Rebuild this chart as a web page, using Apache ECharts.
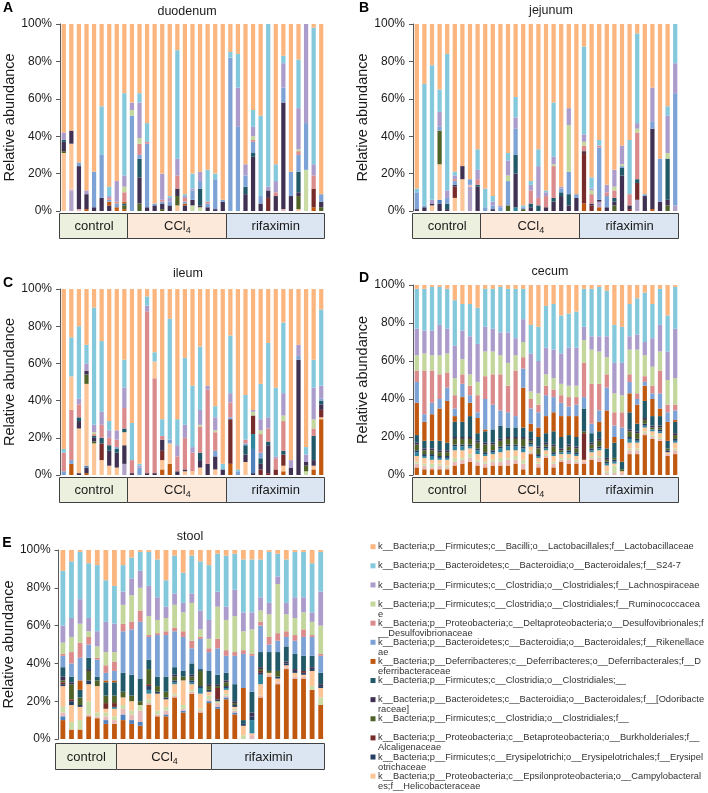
<!DOCTYPE html>
<html><head><meta charset="utf-8">
<script src="https://cdn.jsdelivr.net/npm/echarts@6/dist/echarts.min.js"></script>
<style>html,body{margin:0;padding:0;background:#fff}#c{width:708px;height:793px}</style>
</head><body><div id="c"></div>
<script>
// ---------------- DATA (relative abundance, %) ----------------
const groupNames = ['control', 'CCl4', 'rifaximin'];
const duoGroups = [9, 13, 13], jejGroups = [9, 13, 13], ileGroups = [9, 13, 13], cecGroups = [9, 13, 13], stoGroups = [7, 11, 13];

// duodenum (35 samples)
const duo_oBrown   = [0,0,0,1,0,0,0,1,1, 0,0,0,0,0,0,0,0,0,0,0,0,0, 0,0,0,0,0,0,0,0,0,0,0,2,0];
const duo_oLav     = [0,11,0,0,0,0,0,0,0, 0,0,0,0,0,0,0,0,0,0,0,0,0, 0,0,0,0,0,0,0,0,0,0,0,0,0];
const duo_oPink    = [0,1,1,0,0,0,0,0,0, 0,0,0,0,0,0,0,0,0,0,0,0,0, 0,0,0,0,0,0,0,1,0,0,0,0,0];
const duo_oGreen   = [0,0,0,0,0,0,0,0,0, 0,0,0,0,0,0,0,0,3,2,0,0,0, 0,0,0,0,0,0,0,0,0,0,22,0,0];
const duo_Helico   = [31,24,0,0,0,0,0,0,0, 0,0,0,0,0,0,3,0,0,0,0,0,0, 0,0,0,0,0,0,0,0,0,1,0,0,0];
const duo_Alcalig  = [0,0,0,0,0,0,0,0,0, 0,0,0,0,0,0,0,0,0,0,0,0,0, 0,0,0,0,0,7,0,0,0,0,0,10,0];
const duo_ClostrF  = [1,0,0,0,0,0,0,0,2, 0,4,0,0,1,0,5,0,0,0,0,0,0, 0,0,0,0,0,0,0,0,0,7,0,0,2];
const duo_Odor     = [5,7,23,8,2,7,3,0,0, 0,14,2,3,3,3,4,3,3,1,2,1,5, 0,0,9,29,4,4,8,57,8,2,0,0,3];
const duo_Clostr   = [1,0,0,0,0,0,0,0,1, 0,10,0,0,0,0,0,0,0,9,0,0,0, 0,0,4,2,0,0,0,0,0,11,0,0,0];
const duo_Deferri  = [0,0,0,0,0,0,2,1,1, 0,0,0,0,0,0,0,1,0,0,0,0,0, 0,0,0,0,0,0,0,0,0,0,0,0,0];
const duo_Rikenella= [0,0,2,0,19,23,1,2,0, 51,2,34,1,1,2,0,1,5,4,2,16,1, 82,45,6,6,4,0,0,8,13,9,25,0,4];
const duo_Desulfo  = [0,0,0,0,0,0,1,1,5, 0,6,1,0,1,0,7,2,0,0,1,0,0, 0,0,0,1,0,0,2,0,0,2,0,7,0];
const duo_Rumino   = [0,0,0,0,0,0,0,0,3, 3,3,0,0,0,0,0,0,0,0,0,0,0, 0,0,0,2,0,0,0,0,0,1,0,0,0];
const duo_Lachno   = [4,0,0,2,0,0,1,11,6, 4,19,0,0,14,2,9,1,1,5,0,0,0, 0,21,6,5,0,2,6,13,0,22,53,6,0];
const duo_S247     = [0,0,0,0,0,26,5,0,44, 0,5,10,0,0,1,58,1,8,0,17,3,0, 3,18,0,9,43,87,9,4,0,26,0,73,0];
const duo_Lacto    = [58,57,74,89,79,44,87,84,37, 42,37,53,96,80,92,14,91,80,79,78,80,94, 15,16,75,46,49,0,75,17,79,19,0,2,91];

// jejunum (35 samples)
const jej_oBrown   = [0,0,0,0,0,0,0,0,0, 0,0,0,0,0,0,0,0,0,0,0,0,0, 4,0,2,0,0,0,0,0,0,1,0,0,0];
const jej_oLav     = [0,0,0,0,0,0,0,13,0, 0,0,0,0,0,0,0,0,0,0,0,0,0, 0,0,3,0,0,0,0,6,0,0,0,0,3];
const jej_oPurple  = [0,0,0,4,0,0,0,0,0, 0,0,0,0,0,0,0,0,0,0,0,0,0, 0,0,0,0,0,0,0,0,0,0,0,0,0];
const jej_oBlue    = [0,0,0,2,0,0,0,0,0, 0,0,0,0,0,0,0,0,0,0,0,0,0, 0,0,0,0,0,0,0,0,0,0,0,0,0];
const jej_oPink    = [0,0,0,0,0,0,0,1,0, 0,0,0,0,0,0,0,0,0,0,0,0,0, 0,0,0,0,0,0,0,0,0,0,0,0,0];
const jej_oTeal    = [0,0,0,0,0,0,0,0,0, 0,0,0,0,2,0,0,0,0,0,0,0,0, 0,0,0,0,0,0,0,0,0,0,0,0,0];
const jej_Helico   = [0,0,3,19,0,7,17,0,0, 0,0,0,0,0,0,0,0,0,0,0,0,0, 0,0,0,0,0,0,0,0,0,0,0,0,0];
const jej_Alcalig  = [0,0,0,0,0,6,0,0,0, 0,0,0,0,0,0,0,0,0,0,0,0,0, 27,3,0,0,0,0,1,9,0,0,0,0,0];
const jej_ClostrF  = [0,0,0,18,0,0,0,0,0, 0,0,0,3,0,1,0,0,0,0,0,0,0, 0,0,0,0,3,0,0,0,0,0,0,3,0];
const jej_Odor     = [1,2,1,0,1,1,7,0,13, 0,1,0,0,18,0,2,0,2,5,8,3,7, 1,1,1,2,2,19,2,0,8,43,5,3,0];
const jej_Clostr   = [0,0,0,0,3,0,0,0,1, 0,0,0,0,10,0,2,3,0,2,2,6,0, 0,0,0,0,2,4,0,2,0,0,0,22,0];
const jej_Rikenella= [9,1,0,2,3,2,0,3,0, 2,2,2,13,14,1,0,0,0,0,2,12,2, 0,0,28,6,0,1,0,0,1,4,23,0,60];
const jej_Desulfo  = [0,0,0,0,0,1,0,0,3, 0,0,0,0,0,0,7,4,6,17,0,0,0, 3,5,1,2,4,0,6,25,0,0,0,0,0];
const jej_Rumino   = [0,0,0,0,0,0,0,0,0, 0,0,0,3,0,0,0,0,0,1,0,25,0, 2,2,0,0,2,1,0,2,0,0,0,3,0];
const jej_Lachno   = [0,0,2,8,4,2,0,0,5, 0,2,1,8,6,0,3,17,2,4,1,9,0, 4,1,0,4,9,10,0,3,0,18,0,20,16];
const jej_S247     = [2,65,72,12,73,2,0,0,11, 10,3,0,4,11,1,2,9,1,29,0,0,0, 47,6,3,0,0,0,29,48,0,0,0,5,21];
const jej_Lacto    = [88,32,22,35,16,79,76,83,67, 88,92,97,69,39,97,84,67,89,42,87,45,91, 12,82,62,86,78,65,62,5,91,34,72,44,0];

// ileum (35 samples)
const ile_oBrown   = [0,6,0,1,0,0,0,0,0, 0,0,0,0,3,6,0,0,0,0,0,0,0, 6,0,0,0,0,0,0,2,0,0,0,3,30];
const ile_oLav     = [0,0,0,0,0,0,0,0,6, 0,0,0,0,0,0,0,0,0,0,0,0,0, 0,0,0,0,0,0,0,0,0,0,0,0,0];
const ile_oPurple  = [0,0,1,3,0,0,0,0,10, 0,0,0,0,0,0,0,0,0,0,0,0,0, 0,0,0,1,0,0,0,0,0,0,0,0,0];
const ile_oBlue    = [0,0,0,1,0,0,0,0,0, 0,0,0,0,0,0,0,0,0,0,0,0,0, 0,0,0,13,0,0,0,0,0,0,0,0,0];
const ile_oGreen   = [0,0,0,0,0,0,0,0,0, 0,0,0,0,0,0,0,0,0,0,0,0,0, 0,0,0,0,0,0,0,0,0,0,2,0,0];
const ile_oTeal    = [0,0,0,0,0,0,0,0,0, 0,0,0,0,0,0,0,0,0,0,0,0,0, 0,0,0,8,0,0,0,0,0,0,0,0,0];
const ile_Helico   = [0,0,24,44,17,8,5,4,7, 0,0,0,0,5,11,0,2,2,4,0,3,0, 0,0,7,0,0,0,0,3,0,0,0,2,1];
const ile_Alcalig  = [0,0,0,0,0,9,0,0,0, 0,0,0,0,5,0,0,0,0,0,0,0,0, 24,0,0,10,3,1,3,6,0,0,0,0,4];
const ile_ClostrF  = [0,0,0,5,1,0,0,0,0, 0,0,0,0,0,0,0,0,0,0,0,0,0, 0,0,0,0,0,0,0,0,0,0,3,0,0];
const ile_Odor     = [0,0,4,2,2,0,8,8,0, 1,0,1,1,6,0,2,1,0,4,6,7,3, 0,0,4,0,3,15,0,0,4,62,2,3,3];
const ile_Clostr   = [0,0,2,0,1,3,3,2,2, 0,0,0,0,0,0,0,0,0,4,0,0,0, 0,0,5,0,3,2,0,2,0,0,0,13,2];
const ile_Rikenella= [2,2,0,0,0,0,0,1,0, 0,4,0,0,0,2,0,0,0,0,0,3,0, 1,2,1,0,3,0,0,0,0,2,0,0,1];
const ile_Desulfo  = [10,27,7,0,1,7,4,4,11, 7,0,87,51,2,0,8,17,10,14,40,10,0, 8,0,2,0,10,7,6,16,0,0,0,4,0];
const ile_Rumino   = [0,0,0,0,1,0,0,0,0, 0,0,0,0,0,0,0,0,0,1,0,1,0, 0,0,0,2,2,0,0,3,0,0,0,5,0];
const ile_Lachno   = [0,0,3,4,4,7,4,5,11, 0,1,3,0,0,0,6,7,3,8,2,7,0, 5,0,0,1,6,6,1,12,4,6,4,17,7];
const ile_oPeach   = [0,18,0,0,0,0,0,0,0, 0,0,0,9,0,0,0,0,0,0,0,0,0, 0,0,0,0,0,0,0,0,0,0,0,0,0];
const ile_S247     = [2,21,39,10,63,38,5,0,15, 20,1,5,5,9,65,14,36,33,34,0,6,3, 31,1,24,0,19,40,37,38,0,0,4,15,41];
const ile_Lacto    = [86,26,20,30,10,28,71,76,38, 72,94,4,34,70,16,70,37,52,31,52,63,94, 25,97,57,65,51,29,53,18,92,30,85,38,11];

// cecum (35 samples)
const cec_oBrown   = [4,3,3,3,3,5,6,7,5, 4,5,5,5,6,3,11,4,9,4,7,6,6, 6,8,7,0,0,0,11,11,21,19,18,10,11];
const cec_oPink    = [2,2,1,2,1,2,2,2,2, 2,2,2,3,2,3,1,2,1,2,1,2,1, 1,1,2,1,1,1,2,2,1,1,1,1,2];
const cec_oGreen   = [1,1,2,1,1,2,1,2,1, 1,1,2,1,2,2,1,1,1,1,1,1,1, 0,1,1,1,4,0,1,1,1,1,1,0,1];
const cec_Helico   = [3,3,2,2,3,4,4,3,3, 3,3,3,4,3,4,2,2,2,3,2,2,2, 1,2,3,3,1,1,3,3,2,2,2,1,3];
const cec_oTeal    = [2,1,2,1,1,2,2,1,2, 1,1,2,2,2,2,1,1,1,1,1,1,1, 0,1,1,1,1,0,2,1,1,1,1,0,1];
const cec_Erysipelo= [1,1,1,1,1,1,1,1,1, 1,1,1,1,1,1,1,1,1,1,0,1,1, 0,1,1,1,1,0,1,1,1,0,1,1,1];
const cec_Alcalig  = [0,0,0,0,0,0,0,0,0, 0,0,0,0,0,0,0,0,0,0,0,0,0, 14,0,0,0,0,0,0,0,0,0,0,0,0];
const cec_ClostrF  = [3,2,2,2,2,3,3,3,3, 4,3,3,3,3,4,1,3,1,3,1,2,2, 1,2,3,1,1,1,3,3,2,1,1,1,2];
const cec_Odor     = [1,1,1,1,1,1,1,1,1, 1,1,1,1,1,1,1,1,1,1,1,1,1, 0,1,1,1,0,0,1,1,1,1,1,0,1];
const cec_Clostr   = [4,4,4,5,4,8,8,11,4, 6,7,7,5,5,5,4,5,5,7,6,5,5, 12,5,4,5,8,4,9,4,9,5,5,4,6];
const cec_Deferri  = [17,10,14,17,22,3,13,7,8, 1,0,0,0,0,21,4,5,9,10,11,10,11, 0,0,5,20,3,12,10,10,8,9,4,10,1];
const cec_Rikenella= [11,4,6,5,7,4,7,4,3, 16,13,8,8,6,10,8,8,11,8,7,5,6, 6,5,6,12,6,6,6,3,2,3,8,5,5];
const cec_Desulfo  = [6,23,17,13,8,7,5,5,9, 12,16,19,14,24,6,5,4,5,4,4,5,4, 18,21,14,7,7,8,4,3,3,4,12,4,3];
const cec_Rumino   = [8,9,8,10,10,9,8,6,7, 13,12,10,12,8,8,4,6,6,6,6,6,6, 12,18,17,9,10,9,13,23,11,10,10,13,14];
const cec_Lachno   = [14,12,13,16,13,17,15,20,20, 13,12,12,16,9,12,20,17,14,15,16,20,20, 7,7,8,11,16,17,7,8,7,15,14,15,26];
const cec_S247     = [21,22,23,20,21,24,14,17,19, 20,21,24,23,26,16,15,18,22,24,20,18,19, 20,25,26,24,20,19,17,19,26,18,19,19,22];
const cec_Lacto    = [2,2,1,1,2,8,10,10,12, 2,2,1,2,2,2,21,22,11,10,16,15,14, 2,2,1,3,21,22,10,7,4,10,2,16,1];

// stool (31 samples)
const sto_oBrown   = [10,5,5,12,11,8,8, 10,8,7,18,12,12,22,14,24,14,19, 16,21,13,0,0,22,33,29,37,32,32,26,18];
const sto_oBlue    = [2,0,0,0,0,2,0, 3,2,2,0,0,1,0,1,0,0,1, 1,1,1,0,0,0,0,0,0,0,0,0,0];
const sto_oPink    = [2,0,0,1,1,2,2, 3,3,6,1,1,2,1,1,1,1,1, 2,1,1,0,2,1,1,1,1,1,1,0,0];
const sto_oGreen   = [3,4,5,7,2,2,2, 2,2,3,2,2,2,1,2,1,1,2, 1,1,1,2,0,0,0,0,0,0,0,2,4];
const sto_oTeal    = [0,0,0,0,0,0,1, 0,0,0,2,0,0,1,0,1,3,0, 0,1,0,0,7,5,0,0,0,0,0,0,0];
const sto_Helico   = [11,9,7,9,14,2,4, 4,5,0,3,9,4,5,13,3,8,2, 0,2,1,5,1,6,1,2,1,2,1,8,5];
const sto_Erysipelo= [1,2,1,2,0,0,0, 0,0,0,2,1,1,1,0,1,1,1, 1,1,1,1,2,1,0,1,1,1,1,1,1];
const sto_Alcalig  = [1,1,0,0,0,3,2, 0,0,0,1,0,0,0,0,0,0,0, 6,0,0,0,0,1,0,0,0,0,1,0,0];
const sto_ClostrF  = [1,8,4,5,3,4,4, 3,3,2,8,3,3,2,2,2,8,2, 1,2,1,0,0,1,1,3,0,0,0,0,0];
const sto_Odor     = [2,1,0,1,0,0,0, 0,0,0,0,0,0,1,0,1,0,1, 1,1,1,0,2,1,0,0,1,1,0,1,1];
const sto_Clostr   = [5,3,4,6,2,7,7, 10,11,12,5,5,8,4,3,6,1,7, 5,4,9,2,11,8,10,10,8,8,8,6,6];
const sto_Deferri  = [0,0,5,0,0,1,1, 0,0,0,0,0,0,0,0,0,0,0, 0,0,0,17,0,0,0,0,0,0,0,0,0];
const sto_Rikenella= [6,7,12,7,9,4,5, 22,24,30,12,22,22,19,18,8,16,10, 14,9,15,18,19,14,4,6,5,7,10,10,9];
const sto_Desulfo  = [1,6,8,4,1,4,5, 4,4,6,1,1,2,2,3,4,1,2, 5,3,2,2,1,2,4,4,3,3,4,1,1];
const sto_Rumino   = [6,8,10,3,6,7,5, 10,14,12,10,7,7,12,10,20,4,5, 17,16,19,10,13,6,12,26,9,9,9,7,15];
const sto_Lachno   = [9,10,13,7,8,16,15, 7,9,9,16,12,6,6,5,5,10,10, 8,7,14,10,9,7,6,4,6,11,8,5,18];
const sto_S247     = [29,30,25,29,35,22,20, 14,11,10,18,20,14,20,16,20,26,29, 20,27,19,28,28,20,27,12,23,24,24,26,21];
const sto_Lacto    = [11,6,1,7,8,16,19, 8,4,1,1,5,16,3,12,3,6,8, 2,3,2,5,5,5,1,2,5,1,1,7,1];

// legend taxa (top to bottom as in the legend)
const legendKeys = ['Lacto','S247','Lachno','Rumino','Desulfo','Rikenella','Deferri','Clostr','Odor','ClostrF','Alcalig','Erysipelo','Helico'];
const legendNames = [
  'k__Bacteria;p__Firmicutes;c__Bacilli;o__Lactobacillales;f__Lactobacillaceae',
  'k__Bacteria;p__Bacteroidetes;c__Bacteroidia;o__Bacteroidales;f__S24-7',
  'k__Bacteria;p__Firmicutes;c__Clostridia;o__Clostridiales;f__Lachnospiraceae',
  'k__Bacteria;p__Firmicutes;c__Clostridia;o__Clostridiales;f__Ruminococcaceae',
  'k__Bacteria;p__Proteobacteria;c__Deltaproteobacteria;o__Desulfovibrionales;f__Desulfovibrionaceae',
  'k__Bacteria;p__Bacteroidetes;c__Bacteroidia;o__Bacteroidales;f__Rikenellaceae',
  'k__Bacteria;p__Deferribacteres;c__Deferribacteres;o__Deferribacterales;f__Deferribacteraceae',
  'k__Bacteria;p__Firmicutes;c__Clostridia;o__Clostridiales;__',
  'k__Bacteria;p__Bacteroidetes;c__Bacteroidia;o__Bacteroidales;f__[Odoribacteraceae]',
  'k__Bacteria;p__Firmicutes;c__Clostridia;o__Clostridiales;f__',
  'k__Bacteria;p__Proteobacteria;c__Betaproteobacteria;o__Burkholderiales;f__Alcaligenaceae',
  'k__Bacteria;p__Firmicutes;c__Erysipelotrichi;o__Erysipelotrichales;f__Erysipelotrichaceae',
  'k__Bacteria;p__Proteobacteria;c__Epsilonproteobacteria;o__Campylobacterales;f__Helicobacteraceae'
];

// ---------------- STYLE / LAYOUT ----------------
const FONT = '"Liberation Sans", Arial, sans-serif';
const COLORS = {
  Lacto:'#FBB57F', S247:'#84C8DC', Lachno:'#AB9CCB', Rumino:'#C3D69B', Desulfo:'#DB8B8C',
  Rikenella:'#7DA3D6', Deferri:'#C0580F', Clostr:'#215968', Odor:'#403152', ClostrF:'#4F6228',
  Alcalig:'#772B2A', Erysipelo:'#243F63', Helico:'#FBC597',
  oBrown:'#C0580F', oLav:'#B3A2C7', oPurple:'#403152', oBlue:'#4F81BD', oPink:'#E6B9B8',
  oGreen:'#C9DCA6', oTeal:'#31859C', oPeach:'#FBC597'
};
// stacking order bottom -> top
const STACK = ['oBrown','oLav','oPurple','oBlue','oPink','oGreen','Helico','oTeal','Erysipelo','Alcalig',
  'ClostrF','Odor','Clostr','Deferri','Rikenella','Desulfo','Rumino','Lachno','oPeach','S247','Lacto'];

const PANEL_DATA = {
  duo: {oBrown:duo_oBrown,oLav:duo_oLav,oPink:duo_oPink,oGreen:duo_oGreen,Helico:duo_Helico,Alcalig:duo_Alcalig,ClostrF:duo_ClostrF,Odor:duo_Odor,Clostr:duo_Clostr,Deferri:duo_Deferri,Rikenella:duo_Rikenella,Desulfo:duo_Desulfo,Rumino:duo_Rumino,Lachno:duo_Lachno,S247:duo_S247,Lacto:duo_Lacto},
  jej: {oBrown:jej_oBrown,oLav:jej_oLav,oPurple:jej_oPurple,oBlue:jej_oBlue,oPink:jej_oPink,oTeal:jej_oTeal,Helico:jej_Helico,Alcalig:jej_Alcalig,ClostrF:jej_ClostrF,Odor:jej_Odor,Clostr:jej_Clostr,Rikenella:jej_Rikenella,Desulfo:jej_Desulfo,Rumino:jej_Rumino,Lachno:jej_Lachno,S247:jej_S247,Lacto:jej_Lacto},
  ile: {oBrown:ile_oBrown,oLav:ile_oLav,oPurple:ile_oPurple,oBlue:ile_oBlue,oGreen:ile_oGreen,oTeal:ile_oTeal,Helico:ile_Helico,Alcalig:ile_Alcalig,ClostrF:ile_ClostrF,Odor:ile_Odor,Clostr:ile_Clostr,Rikenella:ile_Rikenella,Desulfo:ile_Desulfo,Rumino:ile_Rumino,Lachno:ile_Lachno,oPeach:ile_oPeach,S247:ile_S247,Lacto:ile_Lacto},
  cec: {oBrown:cec_oBrown,oPink:cec_oPink,oGreen:cec_oGreen,Helico:cec_Helico,oTeal:cec_oTeal,Erysipelo:cec_Erysipelo,Alcalig:cec_Alcalig,ClostrF:cec_ClostrF,Odor:cec_Odor,Clostr:cec_Clostr,Deferri:cec_Deferri,Rikenella:cec_Rikenella,Desulfo:cec_Desulfo,Rumino:cec_Rumino,Lachno:cec_Lachno,S247:cec_S247,Lacto:cec_Lacto},
  sto: {oBrown:sto_oBrown,oBlue:sto_oBlue,oPink:sto_oPink,oGreen:sto_oGreen,oTeal:sto_oTeal,Helico:sto_Helico,Erysipelo:sto_Erysipelo,Alcalig:sto_Alcalig,ClostrF:sto_ClostrF,Odor:sto_Odor,Clostr:sto_Clostr,Deferri:sto_Deferri,Rikenella:sto_Rikenella,Desulfo:sto_Desulfo,Rumino:sto_Rumino,Lachno:sto_Lachno,S247:sto_S247,Lacto:sto_Lacto}
};

const panels = [
  {key:'duo', title:'duodenum', letter:'A', groups:duoGroups, grid:{left:60, top:24, width:265, height:187}, box:{top:213, height:25}, titleXY:[187,12], letterXY:[8,8], nameGap:43},
  {key:'jej', title:'jejunum', letter:'B', groups:jejGroups, grid:{left:413, top:24, width:266, height:187}, box:{top:213, height:25}, titleXY:[551,11], letterXY:[364,8], nameGap:42},
  {key:'ile', title:'ileum', letter:'C', groups:ileGroups, grid:{left:60, top:289, width:265, height:186}, box:{top:477, height:25}, titleXY:[188,274], letterXY:[8,283], nameGap:43},
  {key:'cec', title:'cecum', letter:'D', groups:cecGroups, grid:{left:413, top:285, width:266, height:190}, box:{top:477, height:25}, titleXY:[550,272], letterXY:[364,278], nameGap:42},
  {key:'sto', title:'stool', letter:'E', groups:stoGroups, grid:{left:56, top:550, width:269, height:189}, box:{top:743, height:26}, titleXY:[190,537], letterXY:[7,543], nameGap:41}
];
const GROUP_FILL = ['#EBF1DE', '#FDE9D9', '#DCE6F2'];
const nameOf = {}; legendKeys.forEach((k,i)=>nameOf[k]=legendNames[i]);

const series = [], graphic = [];
panels.forEach((p, pi) => {
  const n = p.groups.reduce((a,b)=>a+b,0);
  p.n = n;
  STACK.forEach(k => {
    const arr = PANEL_DATA[p.key][k];
    if (!arr) return;
    series.push({
      type:'bar', name: nameOf[k] || k, xAxisIndex: pi, yAxisIndex: pi, stack: 'st'+pi,
      data: arr, barCategoryGap: '44%', itemStyle:{color: COLORS[k]}, silent: true
    });
  });
  // group boxes
  const cw = p.grid.width / n;
  let s = 0;
  p.groups.forEach((g, gi) => {
    const x0 = p.grid.left + s*cw, x1 = p.grid.left + (s+g)*cw;
    graphic.push({type:'rect', z:1, shape:{x: Math.round(x0)-0.5, y: p.box.top+0.5, width: Math.round(x1)-Math.round(x0), height: p.box.height},
      style:{fill: GROUP_FILL[gi], stroke:'#404040', lineWidth:1}});
    const cx = (x0+x1)/2, cy = p.box.top + p.box.height/2 + 1;
    if (groupNames[gi] === 'CCl4') {
      graphic.push({type:'text', z:2, style:{text:'{a|CCl}{s|4}', x: cx, y: cy, align:'center', verticalAlign:'middle', textAlign:'center', textVerticalAlign:'middle',
        rich:{a:{fontSize:13, fontFamily:FONT, fill:'#1a1a1a'}, s:{fontSize:9, fontFamily:FONT, fill:'#1a1a1a', padding:[9,0,0,0]}}}});
    } else {
      graphic.push({type:'text', z:2, style:{text: groupNames[gi], x: cx, y: cy, align:'center', verticalAlign:'middle', textAlign:'center', textVerticalAlign:'middle',
        fontSize:13, fontFamily:FONT, fill:'#1a1a1a'}});
    }
    s += g;
  });
  // title and letter
  graphic.push({type:'text', style:{text:p.title, x:p.titleXY[0], y:p.titleXY[1], align:'center', verticalAlign:'middle', textAlign:'center', textVerticalAlign:'middle', fontSize:12.5, fontFamily:FONT, fill:'#1a1a1a'}});
  graphic.push({type:'text', style:{text:p.letter, x:p.letterXY[0], y:p.letterXY[1], align:'center', verticalAlign:'middle', textAlign:'center', textVerticalAlign:'middle', fontSize:14, fontWeight:'bold', fontFamily:FONT, fill:'#000'}});
});

// legend (drawn as graphic so that the fixed row pitch of the original is kept)
legendKeys.forEach((k, i) => {
  const y0 = 546.7 + i*19.12;
  graphic.push({type:'rect', shape:{x:370.5, y:y0-2.5, width:5, height:5}, style:{fill:COLORS[k]}});
  graphic.push({type:'text', style:{text: legendNames[i], x:378, y:y0-5, width:327, overflow:'breakAll', lineHeight:10,
    align:'left', verticalAlign:'top', textAlign:'left', textVerticalAlign:'top', fontSize:9.3, fontFamily:FONT, fill:'#333'}});
});

const option = {
  animation: false,
  textStyle: {fontFamily: FONT},
  grid: panels.map(p => ({left:p.grid.left, top:p.grid.top, width:p.grid.width, height:p.grid.height, containLabel:false})),
  xAxis: panels.map((p, i) => ({type:'category', gridIndex:i, data: Array.from({length:p.n}, (_, k) => String(k+1)),
    axisLine:{show:false}, axisTick:{show:false}, axisLabel:{show:false}, splitLine:{show:false}})),
  yAxis: panels.map((p, i) => ({type:'value', gridIndex:i, min:0, max:100, interval:20,
    name:'Relative abundance', nameLocation:'middle', nameGap:p.nameGap,
    nameTextStyle:{fontSize:14.5, color:'#1a1a1a', fontFamily:FONT},
    axisLine:{show:true, lineStyle:{color:'#595959', width:1}},
    axisTick:{show:true, length:4, lineStyle:{color:'#595959'}},
    axisLabel:{formatter:'{value}%', fontSize:12, color:'#1a1a1a', margin:8, fontFamily:FONT},
    splitLine:{show:false}})),
  series: series,
  graphic: graphic
};
const chart = echarts.init(document.getElementById('c'), null, {renderer:'canvas'});
chart.setOption(option);
</script>
</body></html>
